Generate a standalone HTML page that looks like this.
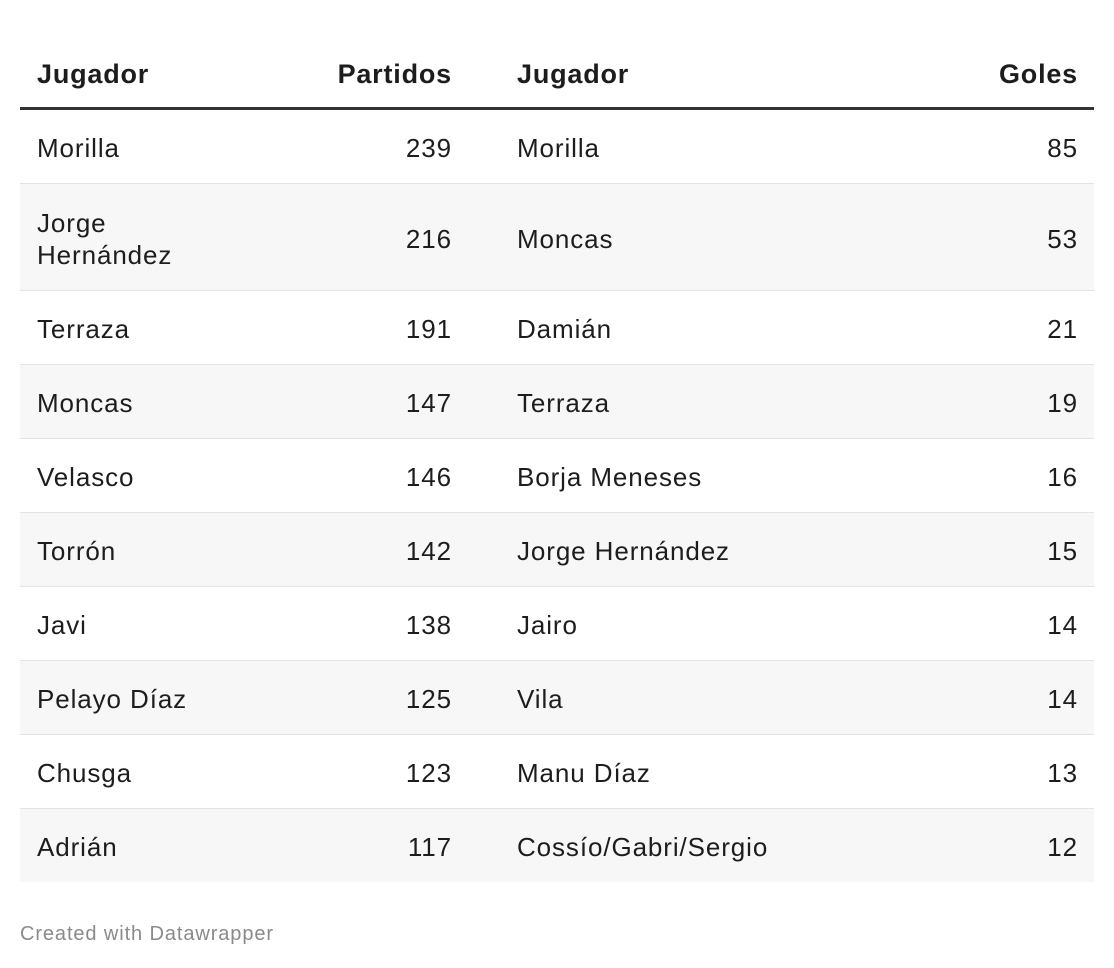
<!DOCTYPE html>
<html><head><meta charset="utf-8"><style>
body{margin:0;width:1114px;height:968px;background:#fff;font-family:"Liberation Sans",Arial,sans-serif;color:#1d1d1d;position:relative;overflow:hidden}
.row{position:absolute;left:20px;width:1074px;border-bottom:1px solid #e3e3e3;box-sizing:border-box}
.row.alt{background:#f7f7f7}
.c{position:absolute;top:3px;bottom:0;display:flex;align-items:center;font-size:26px;line-height:32px;letter-spacing:0.9px}
.c1{left:17px}.c2{right:642px;justify-content:flex-end}.c3{left:497px}.c4{right:16px;justify-content:flex-end}
.hdr{position:absolute;left:20px;width:1074px;top:40px;height:70px;border-bottom:3px solid #333;box-sizing:border-box}
.hdr .c{font-weight:bold;font-size:27px;letter-spacing:0.8px;top:1px}
.foot{position:absolute;left:20px;top:923px;font-size:20px;color:#8a8a8a;letter-spacing:0.9px}
</style></head><body>
<div class="hdr">
<div class="c c1">Jugador</div>
<div class="c c2">Partidos</div>
<div class="c c3">Jugador</div>
<div class="c c4">Goles</div>
</div>
<div id="rows"></div>
<div class="foot">Created with Datawrapper</div>
<script>
const playersA=["Morilla","Jorge<br>Hernández","Terraza","Moncas","Velasco","Torrón","Javi","Pelayo Díaz","Chusga","Adrián"];
const partidos=[239,216,191,147,146,142,138,125,123,117];
const playersB=["Morilla","Moncas","Damián","Terraza","Borja Meneses","Jorge Hernández","Jairo","Vila","Manu Díaz","Cossío/Gabri/Sergio"];
const goles=[85,53,21,19,16,15,14,14,13,12];
const heights=[74,107,74,74,74,74,74,74,74,73];
const wrap=document.getElementById('rows');
let y=110;
for(let i=0;i<playersA.length;i++){
  const r=document.createElement('div');
  r.className='row'+(i%2?' alt':'');
  r.style.top=y+'px';r.style.height=heights[i]+'px';
  if(i===playersA.length-1)r.style.borderBottom='none';
  
  
  r.innerHTML='<div class="c c1">'+playersA[i]+'</div>'+
  '<div class="c c2">'+partidos[i]+'</div>'+
  '<div class="c c3">'+playersB[i]+'</div>'+
  '<div class="c c4">'+goles[i]+'</div>';
  wrap.appendChild(r);
  y+=heights[i];
}
</script>
</body></html>
